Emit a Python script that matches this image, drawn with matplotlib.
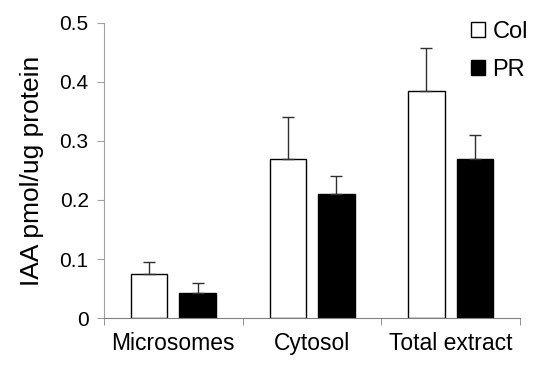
import numpy as np
import matplotlib
matplotlib.use('Agg')
import matplotlib.pyplot as plt

plt.rcParams['font.family'] = ['Liberation Sans', 'DejaVu Sans']

categories = ['Microsomes', 'Cytosol', 'Total extract']
col_vals = [0.075, 0.27, 0.385]
col_err = [0.020, 0.070, 0.073]
pr_vals = [0.042, 0.21, 0.27]
pr_err = [0.018, 0.030, 0.040]
yticks = [0, 0.1, 0.2, 0.3, 0.4, 0.5]
ytick_labels = ['0', '0.1', '0.2', '0.3', '0.4', '0.5']

fig = plt.figure(figsize=(5.48, 3.69), dpi=100)
ax = fig.add_axes([0.1898, 0.1382, 0.949 - 0.1898, 0.9377 - 0.1382])

x = np.arange(len(categories))
w = 0.263
off = 0.175
err_kw = dict(ecolor='#303030', capsize=4.5, elinewidth=1, capthick=1)
ax.bar(x - off, col_vals, w, color='white', edgecolor='black', linewidth=1,
       yerr=[np.zeros(3), col_err], error_kw=err_kw, label='Col', zorder=2)
ax.bar(x + off, pr_vals, w, color='black', edgecolor='black', linewidth=1,
       yerr=[np.zeros(3), pr_err], error_kw=err_kw, label='PR', zorder=2)

ax.set_xlim(-0.5, len(categories) - 0.5)
ax.set_ylim(0, 0.5)
ax.set_yticks(yticks)
ax.set_yticklabels(ytick_labels, fontsize=15)
ax.set_xticks(x)
ax.set_xticklabels(categories, fontsize=16.5)
ax.tick_params(axis='x', length=0, pad=10)
ax.set_xticks(np.arange(len(categories) + 1) - 0.5, minor=True)
ax.tick_params(axis='x', which='minor', length=5, color='#808080', direction='out')
ax.tick_params(axis='y', length=5, color='#a0a0a0', pad=6)

for s in ['top', 'right']:
    ax.spines[s].set_visible(False)
ax.spines['left'].set_color('#a0a0a0')
ax.spines['bottom'].set_color('#808080')

ax.set_ylabel('IAA pmol/ug protein', fontsize=19, labelpad=11)

leg = ax.legend(loc='upper right', bbox_to_anchor=(1.07, 1.08), frameon=False,
                fontsize=17, handlelength=0.6, handleheight=0.6, handletextpad=0.3,
                labelspacing=0.7)

fig.savefig('out.png', dpi=100, facecolor='w')
